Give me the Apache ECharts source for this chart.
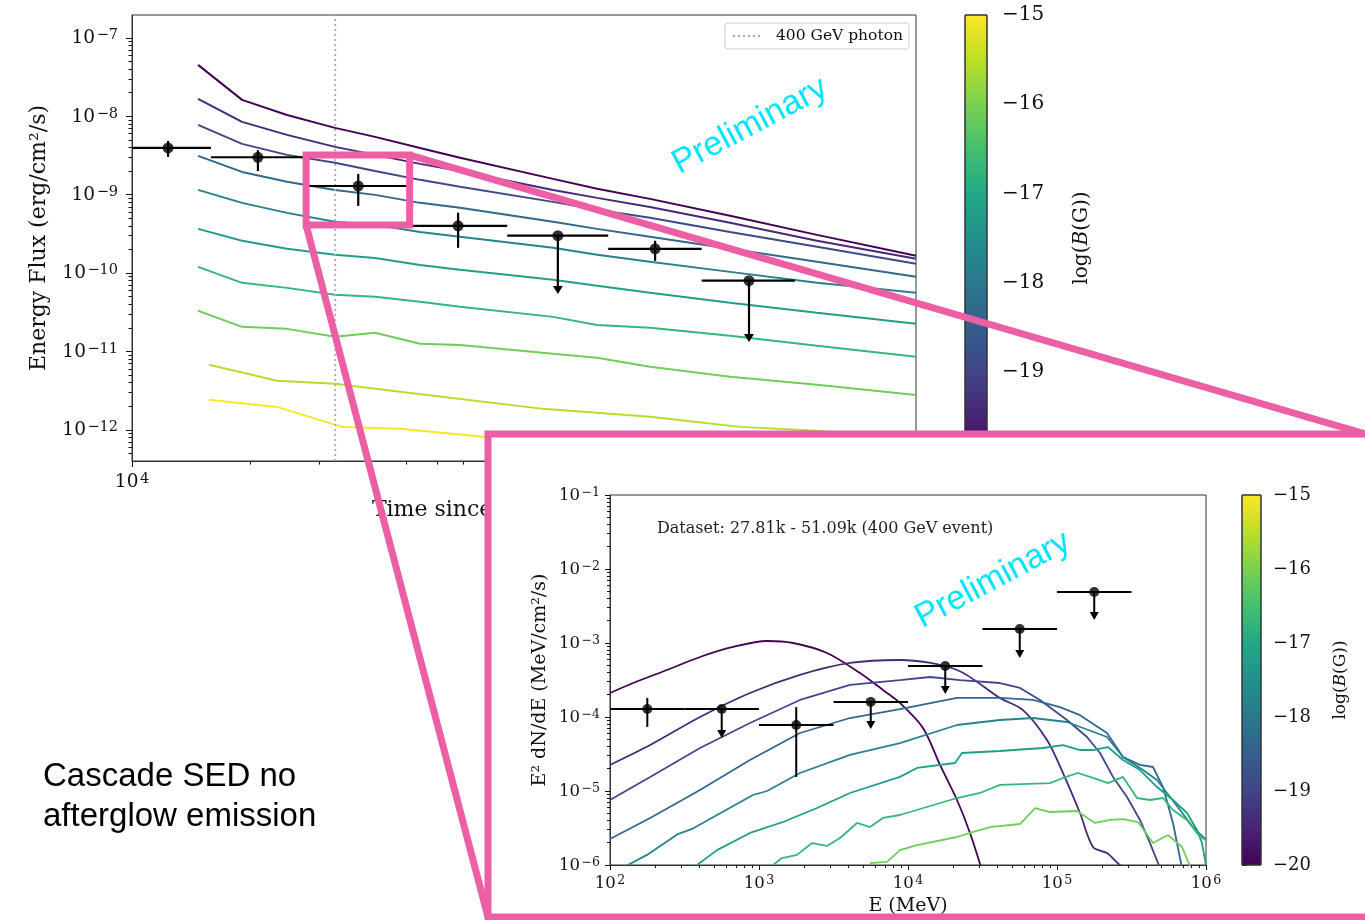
<!DOCTYPE html>
<html>
<head>
<meta charset="utf-8">
<title>Cascade light curve and SED</title>
<script src="https://cdn.jsdelivr.net/npm/echarts@6.0.0/dist/echarts.min.js"></script>
<style>
html, body { margin: 0; padding: 0; background: #ffffff; }
#chart { width: 1365px; height: 920px; }
</style>
</head>
<body>
<div id="chart"></div>
<script>
// ================= DATA =================
// ---- main panel: energy-flux light curve ----
const timeRange = [1e4, 1e6];            // s
const fluxRange = [4.0e-13, 1.96e-7];    // erg/cm2/s
const logBRange = [-20, -15];
const logBValues = [-20.0, -19.44, -18.89, -18.33, -17.78, -17.22, -16.67, -16.11, -15.56, -15.0];

const curveTime = [14740, 19090, 24860, 32950, 41690, 54290, 68660, 118600, 153600, 209600, 335400, 559000, 1000000];
const curveFlux1 = [4.53e-8, 1.62e-8, 1.04e-8, 7.11e-9, 5.46e-9, 3.95e-9, 2.95e-9, 1.59e-9, 1.19e-9, 8.84e-10, 5.37e-10, 3.07e-10, 1.66e-10];
const curveFlux2 = [1.67e-8, 8.48e-9, 5.79e-9, 4.07e-9, 3.22e-9, 2.47e-9, 2.01e-9, 1.15e-9, 9.10e-10, 6.98e-10, 4.37e-10, 2.58e-10, 1.52e-10];
const curveFlux3 = [7.77e-9, 4.45e-9, 3.22e-9, 2.55e-9, 2.01e-9, 1.545e-9, 1.26e-9, 8.09e-10, 6.40e-10, 5.06e-10, 3.35e-10, 2.16e-10, 1.31e-10];
const curveFlux4 = [3.13e-9, 1.95e-9, 1.46e-9, 1.15e-9, 9.94e-10, 7.86e-10, 6.79e-10, 4.50e-10, 3.66e-10, 2.90e-10, 2.04e-10, 1.39e-10, 8.95e-11];
const curveFlux5 = [1.15e-9, 7.86e-10, 5.86e-10, 4.50e-10, 4.12e-10, 3.35e-10, 2.90e-10, 2.10e-10, 1.71e-10, 1.39e-10, 1.035e-10, 7.50e-11, 5.59e-11];
const curveFlux6 = [3.66e-10, 2.58e-10, 2.04e-10, 1.71e-10, 1.56e-10, 1.27e-10, 1.10e-10, 8.19e-11, 6.87e-11, 5.59e-11, 4.17e-11, 3.11e-11, 2.25e-11];
const curveFlux7 = [1.20e-10, 7.50e-11, 6.47e-11, 5.27e-11, 4.97e-11, 4.29e-11, 3.71e-11, 2.76e-11, 2.18e-11, 2.00e-11, 1.58e-11, 1.18e-11, 8.53e-12];
const curveFlux8 = [3.30e-11, 2.06e-11, 1.94e-11, 1.54e-11, 1.73e-11, 1.25e-11, 1.21e-11, 9.32e-12, 8.29e-12, 6.36e-12, 4.74e-12, 3.75e-12, 2.79e-12];
const curveTime9 = [15720, 23440, 32950, 48290, 111800, 209600, 355700, 559000, 1000000];
const curveFlux9 = [6.75e-12, 4.22e-12, 3.86e-12, 3.05e-12, 1.85e-12, 1.47e-12, 1.09e-12, 9.71e-13, 7.91e-13];
const curveTime10 = [15720, 23440, 34340, 48290, 78600, 1000000];
const curveFlux10 = [2.41e-12, 1.96e-12, 1.09e-12, 1.03e-12, 8.14e-13, 5.24e-13];

// measured fluxes (last flag: upper limit)
const lcTime   = [12360, 20950, 37770, 67900, 122000, 216000, 375000];
const lcTimeLo = [9600, 15900, 27810, 51090, 90600, 164000, 284000];
const lcTimeHi = [15900, 27810, 51090, 90600, 164000, 284000, 491000];
const lcFlux   = [3.95e-9, 3.0e-9, 1.29e-9, 4.0e-10, 3.0e-10, 2.04e-10, 8.0e-11];
const lcFluxLo = [3.03e-9, 2.0e-9, 7.2e-10, 2.1e-10, 5.4e-11, 1.43e-10, 1.32e-11];
const lcFluxHi = [4.85e-9, 3.7e-9, 1.84e-9, 5.9e-10, 3.0e-10, 2.58e-10, 8.0e-11];
const lcUpper  = [0, 0, 0, 0, 1, 0, 1];
const photonTime = 33000;                 // 400 GeV photon
const zoomWindowTime = [27810, 51090];
const zoomWindowFlux = [4.1e-10, 3.2e-9];

// ---- inset: SED for the 27.81k - 51.09k dataset ----
const energyRange = [1e2, 1e6];          // MeV
const sedRange = [1e-6, 1e-1];           // MeV/cm2/s
const sedE1 = [100, 143, 241, 402, 669, 1132, 1691, 2860, 4764, 6795, 8837, 12610, 16400, 21330, 26070, 32870];
const sedF1 = [2.11e-4, 2.88e-4, 4.32e-4, 6.47e-4, 8.83e-4, 1.064e-3, 1.00e-3, 7.33e-4, 3.93e-4, 2.32e-4, 1.55e-4, 7.10e-5, 2.25e-5, 7.56e-6, 2.71e-6, 6.27e-7];
const sedE2 = [100, 186, 402, 870, 1884, 4081, 8837, 21330, 41430, 59130, 85680, 109700, 142700, 174400, 216600, 264800, 309000];
const sedF2 = [2.25e-5, 4.18e-5, 1.00e-4, 2.11e-4, 3.70e-4, 5.37e-4, 5.89e-4, 4.32e-4, 1.81e-4, 1.24e-4, 4.89e-5, 1.75e-5, 5.04e-6, 1.75e-6, 1.45e-6, 1.00e-6, 8.56e-7];
const sedE3 = [100, 186, 402, 870, 1884, 4081, 8837, 14050, 22340, 41430, 56460, 76900, 116700, 159000, 194400, 237600, 295000, 360600, 421000, 491300];
const sedF3 = [7.56e-6, 1.55e-5, 3.81e-5, 8.30e-5, 1.70e-4, 2.71e-4, 3.16e-4, 3.47e-4, 3.16e-4, 2.88e-4, 2.47e-4, 1.70e-4, 9.11e-5, 5.37e-5, 3.26e-5, 1.55e-5, 8.30e-6, 4.06e-6, 1.98e-6, 9.11e-7];
const sedE4 = [100, 186, 402, 870, 1884, 4081, 8837, 21330, 41430, 69010, 104700, 142700, 216600, 277300, 360600, 441000, 514500, 600500, 690100];
const sedF4 = [2.25e-6, 4.32e-6, 1.03e-5, 2.62e-5, 6.08e-5, 9.69e-5, 1.28e-4, 1.81e-4, 1.81e-4, 1.70e-4, 1.36e-4, 1.06e-4, 6.08e-5, 2.88e-5, 2.25e-5, 2.11e-5, 1.13e-5, 3.70e-6, 9.11e-7];
const sedE5 = [132, 177, 286, 355, 523, 911, 1132, 1884, 4081, 8837, 21330, 41430, 69010, 116700, 216600, 277300, 377800, 469000, 547200, 669100, 818000, 1000000];
const sedF5 = [1.0e-6, 1.37e-6, 2.62e-6, 3.07e-6, 4.74e-6, 8.83e-6, 1.0e-5, 1.75e-5, 3.07e-5, 4.45e-5, 7.80e-5, 9.11e-5, 9.69e-5, 8.56e-5, 5.37e-5, 2.88e-5, 1.92e-5, 1.41e-5, 9.40e-6, 5.54e-6, 3.26e-6, 2.18e-6];
const sedE6 = [384, 523, 870, 1449, 2451, 4081, 8837, 11490, 20680, 23040, 41430, 80540, 109700, 142700, 174400, 219900, 277300, 360600, 469000, 600500, 745600, 870000, 940100, 1000000];
const sedF6 = [1.0e-6, 1.59e-6, 2.71e-6, 3.81e-6, 5.89e-6, 9.40e-6, 1.55e-5, 2.05e-5, 2.39e-5, 3.26e-5, 3.47e-5, 3.81e-5, 4.18e-5, 3.58e-5, 3.58e-5, 3.93e-5, 2.62e-5, 1.92e-5, 1.13e-5, 7.56e-6, 5.04e-6, 2.97e-6, 1.98e-6, 1.0e-6];
const sedE7 = [1242, 1427, 1799, 2268, 2860, 3497, 4547, 5559, 6795, 8837, 21330, 30420, 41430, 89750, 109700, 138300, 174400, 219900, 277300, 344300, 421000, 514500, 600500, 745600, 911400, 1000000];
const sedF7 = [1.0e-6, 1.24e-6, 1.37e-6, 1.98e-6, 1.81e-6, 2.32e-6, 3.70e-6, 3.26e-6, 4.32e-6, 4.74e-6, 8.04e-6, 9.40e-6, 1.21e-5, 1.28e-5, 1.50e-5, 1.75e-5, 1.50e-5, 1.28e-5, 1.55e-5, 8.04e-6, 7.56e-6, 8.04e-6, 5.54e-6, 4.06e-6, 2.39e-6, 2.18e-6];
const sedE8 = [5559, 7228, 8837, 11490, 21330, 26070, 35510, 56460, 71180, 89750, 136200, 179900, 226900, 277300, 349700, 441000, 555900, 690100, 780700];
const sedF8 = [1.06e-6, 1.10e-6, 1.59e-6, 1.86e-6, 2.39e-6, 2.71e-6, 3.26e-6, 3.58e-6, 5.89e-6, 5.20e-6, 5.37e-6, 3.70e-6, 4.06e-6, 4.18e-6, 3.81e-6, 1.98e-6, 2.54e-6, 1.75e-6, 9.69e-7];

const sedPtE    = [178, 562, 1778, 5623, 17783, 56234, 177828];
const sedPtELo  = [100, 316, 1000, 3162, 10000, 31623, 100000];
const sedPtEHi  = [316, 1000, 3162, 10000, 31623, 100000, 316228];
const sedPtVal  = [1.28e-4, 1.28e-4, 7.8e-5, 1.6e-4, 4.89e-4, 1.55e-3, 4.89e-3];
const sedPtLo   = [7.33e-5, 5.2e-5, 1.55e-5, 6.9e-5, 2.05e-4, 6.27e-4, 2.05e-3];
const sedPtHi   = [1.81e-4, 1.28e-4, 1.36e-4, 1.6e-4, 4.89e-4, 1.55e-3, 4.89e-3];
const sedPtUpper = [0, 1, 0, 1, 1, 1, 1];

// ================= STYLE =================
const SERIF = 'DejaVu Serif';
const SANS = 'Liberation Sans';
const PINK = '#ec5fa5';
const CYAN = '#00e5ff';
const INK = '#111111';
const viridis = ['#440154', '#482878', '#3e4989', '#31688e', '#26828e', '#1f9e89', '#35b779', '#6ece58', '#b5de2b', '#fde725'];
const sedSmooth = [0.3, 0.3, 0, 0, 0, 0, 0, 0];
const viridisStops = [
  [0, '#440154'], [0.1, '#482475'], [0.2, '#414487'], [0.3, '#355f8d'], [0.4, '#2a788e'],
  [0.5, '#21918c'], [0.6, '#22a884'], [0.7, '#44bf70'], [0.8, '#7ad151'], [0.9, '#bddf26'], [1, '#fde725']
].map(s => ({ offset: s[0], color: s[1] }));

// ================= HELPERS =================
const L10 = Math.log10;
function majorTicks(lo, hi) { const o = []; for (let n = Math.ceil(lo - 1e-9); n <= hi + 1e-9; n++) o.push(n); return o; }
function minorTicks(lo, hi) {
  const o = [];
  for (let n = Math.floor(lo); n < Math.ceil(hi); n++)
    for (let k = 2; k <= 9; k++) { const v = n + L10(k); if (v > lo && v < hi) o.push(v); }
  return o;
}
const minus = '\u2212';
function decadeLabel(v) { const e = Math.round(v); return '{b|10}{s|' + (e < 0 ? minus + (-e) : String(e)) + '}'; }
function richFor(base, sup) {
  return {
    b: { fontFamily: SERIF, fontSize: base, lineHeight: base + 1.5, verticalAlign: 'bottom', color: INK },
    s: { fontFamily: SERIF, fontSize: sup, lineHeight: sup, verticalAlign: 'top', color: INK, padding: [0, 0, 0, 1.5] }
  };
}
function tickAxes(gridIndex, lo, hi, o) {
  const tickStyle = { color: INK, width: 1 };
  const major = {
    type: 'value', gridIndex, min: lo, max: hi, position: o.position, z: o.z,
    axisLine: { show: true, lineStyle: { color: '#333', width: 1 } },
    axisTick: { show: true, customValues: majorTicks(lo, hi), length: o.major, lineStyle: tickStyle },
    axisLabel: { show: true, customValues: majorTicks(lo, hi), formatter: decadeLabel, rich: o.rich, margin: o.margin },
    splitLine: { show: false },
    name: o.name, nameLocation: 'middle', nameGap: o.nameGap, nameMoveOverlap: false,
    nameTextStyle: { fontFamily: SERIF, fontSize: o.nameSize, color: INK }
  };
  const minor = {
    type: 'value', gridIndex, min: lo, max: hi, position: o.position, z: o.z,
    axisLine: { show: false },
    axisTick: { show: true, customValues: minorTicks(lo, hi), length: o.minor, lineStyle: tickStyle },
    axisLabel: { show: false }, splitLine: { show: false }
  };
  return [major, minor];
}
function makeErrRender(head, lw) {
  return function (params, api) {
    const x = api.value(0), y = api.value(1);
    const c = api.coord([x, y]);
    const l = api.coord([api.value(2), y]);
    const r = api.coord([api.value(3), y]);
    const lo = api.coord([x, api.value(4)]);
    const hi = api.coord([x, api.value(5)]);
    const st = { stroke: '#000', lineWidth: lw };
    const ch = [{ type: 'line', shape: { x1: l[0], y1: c[1], x2: r[0], y2: c[1] }, style: st }];
    if (api.value(6)) {
      ch.push({ type: 'line', shape: { x1: c[0], y1: c[1], x2: c[0], y2: lo[1] - head.h + 1 }, style: st });
      ch.push({ type: 'polygon', shape: { points: [[c[0] - head.w / 2, lo[1] - head.h], [c[0] + head.w / 2, lo[1] - head.h], [c[0], lo[1]]] }, style: { fill: '#000' } });
    } else {
      ch.push({ type: 'line', shape: { x1: c[0], y1: hi[1], x2: c[0], y2: lo[1] }, style: st });
    }
    return { type: 'group', children: ch };
  };
}
function colorbarRender(params, api) {
  const p0 = api.coord([0, logBRange[1]]);
  const p1 = api.coord([1, logBRange[0]]);
  return {
    type: 'rect',
    shape: { x: p0[0], y: p0[1], width: p1[0] - p0[0], height: p1[1] - p0[1] },
    style: { fill: new echarts.graphic.LinearGradient(0, 1, 0, 0, viridisStops), stroke: '#333', lineWidth: 1 }
  };
}
function zip(a, b) { return a.map((v, i) => [v, b[i]]); }

// ================= OPTION =================
const mainCurves = [
  [curveTime, curveFlux1], [curveTime, curveFlux2], [curveTime, curveFlux3], [curveTime, curveFlux4],
  [curveTime, curveFlux5], [curveTime, curveFlux6], [curveTime, curveFlux7], [curveTime, curveFlux8],
  [curveTime9, curveFlux9], [curveTime10, curveFlux10]
];
const sedCurves = [[sedE1, sedF1], [sedE2, sedF2], [sedE3, sedF3], [sedE4, sedF4], [sedE5, sedF5], [sedE6, sedF6], [sedE7, sedF7], [sedE8, sedF8]];

const tRange = [L10(timeRange[0]), L10(timeRange[1])];
const fRange = [L10(fluxRange[0]), L10(fluxRange[1])];
const eRange = [L10(energyRange[0]), L10(energyRange[1])];
const sRange = [L10(sedRange[0]), L10(sedRange[1])];

const richMain = richFor(18.5, 14.5);
const richInset = richFor(16.5, 12.5);

const mainX = tickAxes(0, tRange[0], tRange[1], { position: 'bottom', z: 0, major: 6, minor: 3.5, rich: richMain, margin: 11, name: 'Time since GBM trigger (s)', nameGap: 38, nameSize: 22 });
const mainY = tickAxes(0, fRange[0], fRange[1], { position: 'left', z: 0, major: 6, minor: 3.5, rich: richMain, margin: 14, name: 'Energy Flux (erg/cm\u00b2/s)', nameGap: 82, nameSize: 22 });
const insetX = tickAxes(2, eRange[0], eRange[1], { position: 'bottom', z: 20, major: 5, minor: 3, rich: richInset, margin: 9, name: 'E (MeV)', nameGap: 32, nameSize: 19 });
const insetY = tickAxes(2, sRange[0], sRange[1], { position: 'left', z: 20, major: 5, minor: 3, rich: richInset, margin: 10, name: 'E\u00b2 dN/dE (MeV/cm\u00b2/s)', nameGap: 60, nameSize: 19 });

function cbarAxis(gridIndex, z, fontSize, margin, nameGap, nameSize, tickLen) {
  return {
    type: 'value', gridIndex, min: logBRange[0], max: logBRange[1], interval: 1, position: 'right', z,
    axisLine: { show: false },
    axisTick: { show: true, length: tickLen, lineStyle: { color: INK, width: 1 } },
    axisLabel: { formatter: v => (v < 0 ? minus + Math.abs(v) : String(v)), fontFamily: SERIF, fontSize, color: INK, margin, padding: [5, 0, 0, 0] },
    splitLine: { show: false },
    name: '{n|log(}{i|B}{n|(G))}', nameLocation: 'middle', nameGap, nameMoveOverlap: false,
    nameTextStyle: { rich: { n: { fontFamily: SERIF, fontSize: nameSize, color: INK }, i: { fontFamily: SERIF, fontSize: nameSize, fontStyle: 'italic', color: INK } } }
  };
}

const series = [];
mainCurves.forEach((c, i) => {
  series.push({
    type: 'line', name: 'log(B) = ' + logBValues[i], xAxisIndex: 0, yAxisIndex: 0,
    data: zip(c[0], c[1]), symbol: 'none', showSymbol: false, silent: true, z: 2,
    lineStyle: { color: viridis[i], width: 2 }, itemStyle: { color: viridis[i] }
  });
});
series.push({
  type: 'line', name: '400 GeV photon', xAxisIndex: 0, yAxisIndex: 0,
  data: [[photonTime, fluxRange[0]], [photonTime, fluxRange[1]]], symbol: 'none', silent: true, z: 3,
  lineStyle: { color: '#aaaaaa', width: 1.8, type: [2, 3] }, itemStyle: { color: '#aaaaaa' }
});
series.push({
  type: 'custom', name: 'flux errors', xAxisIndex: 0, yAxisIndex: 0, clip: true, z: 5, silent: true,
  renderItem: makeErrRender({ w: 10, h: 8 }, 2.2), encode: { x: 0, y: 1 },
  data: lcTime.map((t, i) => [t, lcFlux[i], lcTimeLo[i], lcTimeHi[i], lcFluxLo[i], lcFluxHi[i], lcUpper[i]])
});
series.push({
  type: 'scatter', name: 'flux', xAxisIndex: 0, yAxisIndex: 0, z: 6, silent: true,
  symbolSize: 11, itemStyle: { color: '#000' }, data: zip(lcTime, lcFlux)
});
series.push({
  type: 'custom', name: 'colorbar', xAxisIndex: 3, yAxisIndex: 3, z: 2, silent: true,
  renderItem: colorbarRender, data: [[0, logBRange[0]]], encode: { x: 0, y: 1 }
});
sedCurves.forEach((c, i) => {
  series.push({
    type: 'line', name: 'SED log(B) = ' + logBValues[i], xAxisIndex: 4, yAxisIndex: 4,
    data: zip(c[0], c[1]), symbol: 'none', showSymbol: false, silent: true, z: 21,
    smooth: sedSmooth[i],
    lineStyle: { color: viridis[i], width: 1.8 }, itemStyle: { color: viridis[i] }
  });
});
series.push({
  type: 'custom', name: 'SED errors', xAxisIndex: 4, yAxisIndex: 4, clip: true, z: 22, silent: true,
  renderItem: makeErrRender({ w: 9, h: 8 }, 2), encode: { x: 0, y: 1 },
  data: sedPtE.map((e, i) => [e, sedPtVal[i], sedPtELo[i], sedPtEHi[i], sedPtLo[i], sedPtHi[i], sedPtUpper[i]])
});
series.push({
  type: 'scatter', name: 'SED', xAxisIndex: 4, yAxisIndex: 4, z: 23, silent: true,
  symbolSize: 10, itemStyle: { color: '#000' }, data: zip(sedPtE, sedPtVal)
});
series.push({
  type: 'custom', name: 'colorbar inset', xAxisIndex: 7, yAxisIndex: 7, z: 21, silent: true,
  renderItem: colorbarRender, data: [[0, logBRange[0]]], encode: { x: 0, y: 1 }
});

const option = {
  animation: false,
  backgroundColor: '#ffffff',
  grid: [
    { left: 132, top: 15, width: 784, height: 446, show: true, borderColor: '#333', borderWidth: 1, backgroundColor: 'transparent', z: 2, outerBoundsMode: 'none' },
    { left: 965, top: 15, width: 22, height: 446, show: false, z: 2, outerBoundsMode: 'none' },
    { left: 610, top: 495, width: 596, height: 370, show: true, borderColor: '#333', borderWidth: 1, backgroundColor: 'transparent', z: 20, outerBoundsMode: 'none' },
    { left: 1242, top: 495, width: 19, height: 370, show: false, z: 20, outerBoundsMode: 'none' }
  ],
  xAxis: [
    { type: 'log', gridIndex: 0, min: timeRange[0], max: timeRange[1], show: false },
    mainX[0], mainX[1],
    { type: 'value', gridIndex: 1, min: 0, max: 1, show: false },
    { type: 'log', gridIndex: 2, min: energyRange[0], max: energyRange[1], show: false },
    insetX[0], insetX[1],
    { type: 'value', gridIndex: 3, min: 0, max: 1, show: false }
  ],
  yAxis: [
    { type: 'log', gridIndex: 0, min: fluxRange[0], max: fluxRange[1], show: false },
    mainY[0], mainY[1],
    cbarAxis(1, 0, 20, 15, 85, 20, 6),
    { type: 'log', gridIndex: 2, min: sedRange[0], max: sedRange[1], show: false },
    insetY[0], insetY[1],
    cbarAxis(3, 20, 18, 12, 71, 17, 5)
  ],
  legend: {
    data: ['400 GeV photon'], left: 725, top: 23, selectedMode: false,
    itemWidth: 30, itemHeight: 12, padding: [5, 6, 5, 7],
    itemStyle: { opacity: 0 },
    backgroundColor: '#ffffff', borderColor: '#d0d0d0', borderWidth: 1, borderRadius: 3,
    textStyle: { fontFamily: SERIF, fontSize: 15.5, color: INK, padding: [0, 0, 0, 8] }
  },
  series
};

const chart = echarts.init(document.getElementById('chart'), null, { renderer: 'canvas', width: 1365, height: 920 });
chart.setOption(option);

// zoom-window annotation and texts
const pA = chart.convertToPixel({ xAxisIndex: 0, yAxisIndex: 0 }, [zoomWindowTime[0], zoomWindowFlux[1]]);
const pB = chart.convertToPixel({ xAxisIndex: 0, yAxisIndex: 0 }, [zoomWindowTime[1], zoomWindowFlux[0]]);
const insetBox = { x: 488, y: 434, w: 910, h: 483 };
const edgeX = 1372;
chart.setOption({
  graphic: [
    { type: 'rect', z: 10, shape: { x: insetBox.x, y: insetBox.y, width: insetBox.w, height: insetBox.h }, style: { fill: '#ffffff', stroke: PINK, lineWidth: 7 } },
    { type: 'line', z: 11, shape: { x1: pA[0], y1: pB[1], x2: insetBox.x, y2: insetBox.y + insetBox.h }, style: { stroke: PINK, lineWidth: 7 } },
    { type: 'line', z: 11, shape: { x1: pB[0], y1: pA[1], x2: edgeX, y2: insetBox.y + 2 }, style: { stroke: PINK, lineWidth: 7 } },
    { type: 'rect', z: 11, shape: { x: pA[0], y: pA[1], width: pB[0] - pA[0], height: pB[1] - pA[1] }, style: { fill: 'none', stroke: PINK, lineWidth: 7 } },
    { type: 'text', z: 30, x: 750, y: 126, rotation: 28 * Math.PI / 180,
      style: { text: 'Preliminary', fontFamily: SANS, fontSize: 34, fill: CYAN, align: 'center', verticalAlign: 'middle', textAlign: 'center', textVerticalAlign: 'middle' } },
    { type: 'text', z: 30, x: 993, y: 580, rotation: 28 * Math.PI / 180,
      style: { text: 'Preliminary', fontFamily: SANS, fontSize: 34, fill: CYAN, align: 'center', verticalAlign: 'middle', textAlign: 'center', textVerticalAlign: 'middle' } },
    { type: 'text', z: 30, x: 657, y: 529,
      style: { text: 'Dataset: 27.81k - 51.09k (400 GeV event)', fontFamily: SERIF, fontSize: 16, fill: '#222', align: 'left', verticalAlign: 'middle', textAlign: 'left', textVerticalAlign: 'middle' } },
    { type: 'text', z: 30, x: 43, y: 757,
      style: { text: 'Cascade SED no\nafterglow emission', fontFamily: SANS, fontSize: 33, lineHeight: 40, fill: '#000', align: 'left', verticalAlign: 'top', textAlign: 'left', textVerticalAlign: 'top' } }
  ]
});
</script>
</body>
</html>
